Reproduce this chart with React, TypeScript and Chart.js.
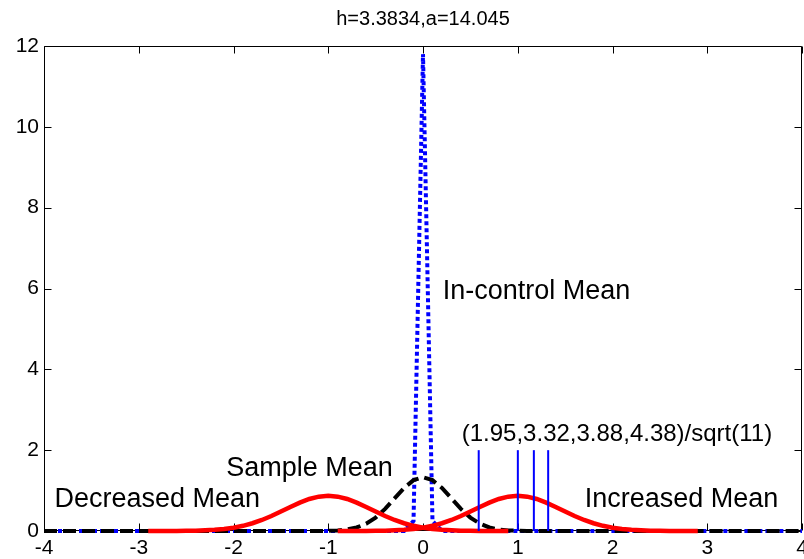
import React, { useEffect, useRef } from "react";
import { Chart, registerables } from "chart.js";

Chart.register(...registerables);

const TITLE = "h=3.3834,a=14.045";
const xTicks = [-4, -3, -2, -1, 0, 1, 2, 3, 4];
const yTicks = [0, 2, 4, 6, 8, 10, 12];

// In-control mean (blue dotted)
const inControlX = [-4, -0.2, -0.1, 0, 0.1, 0.2, 4];
const inControlY = [0, 0, 0.25, 11.8, 0.25, 0, 0];

// Sample mean (black dashed)
const sampleX = [-4, -1.2, -1.1, -1.0, -0.9, -0.8, -0.7, -0.6, -0.5, -0.4, -0.3, -0.2, -0.1, 0, 0.1, 0.2, 0.3, 0.4, 0.5, 0.6, 0.7, 0.8, 0.9, 1.0, 1.1, 1.2, 4];
const sampleY = [0, 0, 0.001, 0.005, 0.015, 0.038, 0.087, 0.18, 0.332, 0.547, 0.807, 1.065, 1.258, 1.33, 1.258, 1.065, 0.807, 0.547, 0.332, 0.18, 0.087, 0.038, 0.015, 0.005, 0.001, 0, 0];

// Decreased mean (red, left)
const decreasedX = [-2.9, -2.8, -2.7, -2.6, -2.5, -2.4, -2.3, -2.2, -2.1, -2.0, -1.9, -1.8, -1.7, -1.6, -1.5, -1.4, -1.3, -1.2, -1.1, -1.0, -0.9, -0.8, -0.7, -0.6, -0.5, -0.4, -0.3, -0.2, -0.1, 0, 0.1, 0.2, 0.3, 0.4, 0.5, 0.6, 0.7, 0.8, 0.9];
const decreasedY = [0, 0, 0.001, 0.002, 0.004, 0.008, 0.016, 0.029, 0.05, 0.082, 0.128, 0.192, 0.273, 0.372, 0.482, 0.596, 0.703, 0.792, 0.85, 0.87, 0.85, 0.792, 0.703, 0.596, 0.482, 0.372, 0.273, 0.192, 0.128, 0.082, 0.05, 0.029, 0.016, 0.008, 0.004, 0.002, 0.001, 0, 0];

// Increased mean (red, right)
const increasedX = [-0.9, -0.8, -0.7, -0.6, -0.5, -0.4, -0.3, -0.2, -0.1, 0, 0.1, 0.2, 0.3, 0.4, 0.5, 0.6, 0.7, 0.8, 0.9, 1.0, 1.1, 1.2, 1.3, 1.4, 1.5, 1.6, 1.7, 1.8, 1.9, 2.0, 2.1, 2.2, 2.3, 2.4, 2.5, 2.6, 2.7, 2.8, 2.9];
const increasedY = [0, 0, 0.001, 0.002, 0.004, 0.008, 0.016, 0.029, 0.05, 0.082, 0.128, 0.192, 0.273, 0.372, 0.482, 0.596, 0.703, 0.792, 0.85, 0.87, 0.85, 0.792, 0.703, 0.596, 0.482, 0.372, 0.273, 0.192, 0.128, 0.082, 0.05, 0.029, 0.016, 0.008, 0.004, 0.002, 0.001, 0, 0];

// Vertical markers at (1.95,3.32,3.88,4.38)/sqrt(11)
const markerX = [0.588, 1.001, 1.17, 1.321];
const markerTop = [2, 2, 2, 2];

// Text annotations (data coordinates of left/baseline)
const labelText = ["In-control Mean", "(1.95,3.32,3.88,4.38)/sqrt(11)", "Sample Mean", "Decreased Mean", "Increased Mean"];
const labelX = [0.208, 0.409, -2.076, -3.889, 1.707];
const labelY = [5.73, 2.23, 1.36, 0.594, 0.594];
const labelSize = [27, 24, 27, 27, 27];

const FONT = '"Liberation Sans", Arial, Helvetica, sans-serif';

function pts(xs: number[], ys: number[]) {
  return xs.map((x, i) => ({ x, y: ys[i] }));
}

const axesPlugin = {
  id: "matlabAxes",
  beforeDatasetsDraw(chart: any) {
    const { ctx, chartArea } = chart;
    const xs = chart.scales.x;
    const ys = chart.scales.y;
    const L = Math.round(chartArea.left) + 0.5;
    const R = Math.round(chartArea.right) - 0.5;
    const T = Math.round(chartArea.top) + 0.5;
    const B = Math.round(chartArea.bottom) - 0.5;
    ctx.save();
    ctx.strokeStyle = "#000";
    ctx.lineWidth = 1;
    ctx.beginPath();
    ctx.rect(L, T, R - L, B - T);
    const tl = 7;
    xTicks.forEach((v) => {
      const px = Math.round(xs.getPixelForValue(v)) + 0.5;
      ctx.moveTo(px, B);
      ctx.lineTo(px, B - tl);
      ctx.moveTo(px, T);
      ctx.lineTo(px, T + tl);
    });
    yTicks.forEach((v) => {
      const py = Math.round(ys.getPixelForValue(v)) + 0.5;
      ctx.moveTo(L, py);
      ctx.lineTo(L + tl, py);
      ctx.moveTo(R, py);
      ctx.lineTo(R - tl, py);
    });
    ctx.stroke();

    ctx.fillStyle = "#000";
    ctx.font = `21px ${FONT}`;
    ctx.textAlign = "center";
    ctx.textBaseline = "middle";
    xTicks.forEach((v) => {
      ctx.fillText(String(v), xs.getPixelForValue(v), chartArea.bottom + 17);
    });
    ctx.textAlign = "right";
    yTicks.forEach((v) => {
      ctx.fillText(String(v), chartArea.left - 5, ys.getPixelForValue(v));
    });

    ctx.font = `20px ${FONT}`;
    ctx.textAlign = "center";
    ctx.textBaseline = "alphabetic";
    ctx.fillText(TITLE, (chartArea.left + chartArea.right) / 2, 25);
    ctx.restore();
  },
  afterDatasetsDraw(chart: any) {
    const { ctx } = chart;
    const xs = chart.scales.x;
    const ys = chart.scales.y;
    ctx.save();
    ctx.fillStyle = "#000";
    ctx.textAlign = "left";
    ctx.textBaseline = "alphabetic";
    labelText.forEach((t, i) => {
      ctx.font = `${labelSize[i]}px ${FONT}`;
      ctx.fillText(t, xs.getPixelForValue(labelX[i]), ys.getPixelForValue(labelY[i]));
    });
    ctx.restore();
  },
};

export default function App() {
  const ref = useRef<HTMLCanvasElement | null>(null);

  useEffect(() => {
    if (!ref.current) return;
    const markerSets = markerX.map((x, i) => ({
      data: [
        { x, y: 0 },
        { x, y: markerTop[i] },
      ],
      borderColor: "#0000ff",
      borderWidth: 2,
      pointRadius: 0,
      fill: false,
      clip: 8,
    }));
    const chart = new Chart(ref.current, {
      type: "line",
      data: {
        datasets: [
          ...markerSets,
          {
            data: pts(decreasedX, decreasedY),
            borderColor: "#ff0000",
            borderWidth: 4.5,
            pointRadius: 0,
            fill: false,
            clip: 8,
          },
          {
            data: pts(increasedX, increasedY),
            borderColor: "#ff0000",
            borderWidth: 4.5,
            pointRadius: 0,
            fill: false,
            clip: 8,
          },
          {
            data: pts(sampleX, sampleY),
            borderColor: "#000000",
            borderWidth: 4,
            borderDash: [13, 6],
            pointRadius: 0,
            fill: false,
            clip: 8,
          },
          {
            data: pts(inControlX, inControlY),
            borderColor: "#0000ff",
            borderWidth: 4,
            borderDash: [4, 3],
            pointRadius: 0,
            fill: false,
            clip: 8,
          },
        ] as any,
      },
      options: {
        responsive: false,
        animation: false,
        devicePixelRatio: 1,
        layout: { padding: { top: 46, right: 2, left: 0, bottom: 0 } },
        plugins: {
          legend: { display: false },
          tooltip: { enabled: false },
          title: { display: false },
        },
        elements: { line: { tension: 0 } },
        scales: {
          x: {
            type: "linear",
            min: -4,
            max: 4,
            ticks: { display: false },
            grid: { display: false },
            border: { display: false },
            afterFit: (s: any) => {
              s.height = 28;
            },
          },
          y: {
            type: "linear",
            min: 0,
            max: 12,
            ticks: { display: false },
            grid: { display: false },
            border: { display: false },
            afterFit: (s: any) => {
              s.width = 44;
            },
          },
        },
      } as any,
      plugins: [axesPlugin],
    });
    return () => chart.destroy();
  }, []);

  return (
    <div style={{ position: "absolute", left: 0, top: 0, width: 804, height: 559, background: "#fff" }}>
      <canvas ref={ref} width={804} height={559} style={{ width: 804, height: 559, display: "block" }} />
    </div>
  );
}
